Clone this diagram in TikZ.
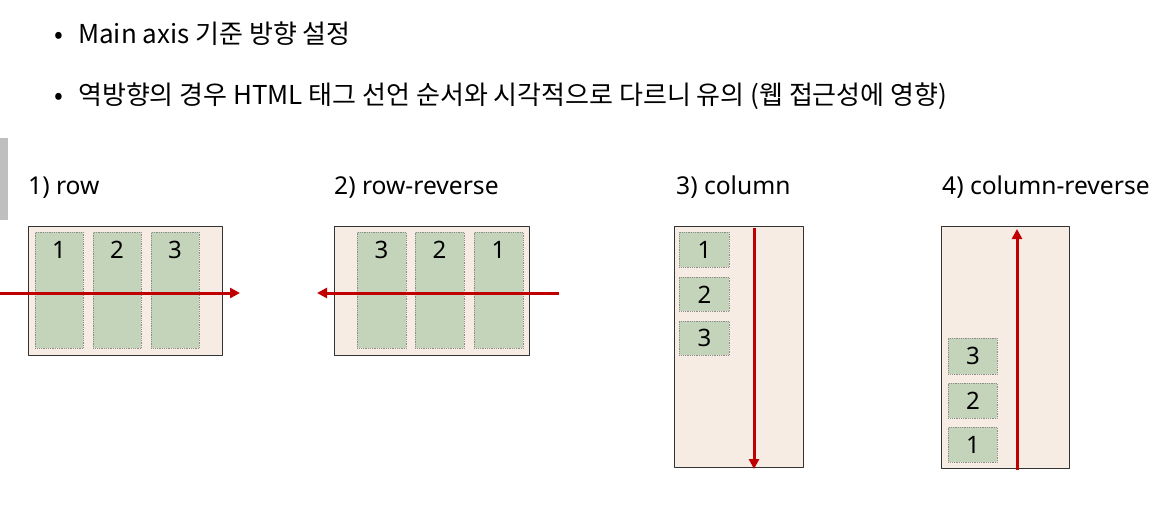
\documentclass[tikz,border=0pt]{standalone}
\usepackage{fontspec}
\setmainfont{Noto Sans}
\newfontfamily\kofont{Noto Sans CJK KR}
\usetikzlibrary{arrows.meta}
\definecolor{boxbg}{HTML}{F6ECE4}
\definecolor{itemgreen}{HTML}{C3D4BB}
\definecolor{axisred}{HTML}{C00000}
\begin{document}
\begin{tikzpicture}[x=1pt,y=-1pt,line join=round,
		flexbox/.style={draw=black!80,fill=boxbg,line width=0.9pt,anchor=north west,inner sep=0pt},
		item/.style={draw=black!45,densely dotted,fill=itemgreen,line width=0.8pt,anchor=north west,inner sep=0pt,font=\fontsize{24}{24}\selectfont},
		num/.style={font=\fontsize{24}{24}\selectfont,inner sep=0pt},
		axis/.style={draw=axisred,line width=3pt,-{Triangle[length=10pt,width=10pt]}},
		title/.style={font=\fontsize{24.6}{24.6}\selectfont,anchor=base west,inner sep=0pt},
		bullet/.style={font=\kofont\fontsize{26}{26}\selectfont,anchor=base west,inner sep=0pt}]
	\useasboundingbox[fill=white] (0,0) rectangle (1157,522);
	\fill[black!25] (0,138) rectangle (8,220);
	% bullets
	\node[bullet] (dot1) at (54,43) {•};
	\node[bullet] (txt1) at (78,43) {Main axis 기준 방향 설정};
	\node[bullet] (dot2) at (54,104) {•};
	\node[bullet] (txt2) at (78,104) {역방향의 경우 HTML 태그 선언 순서와 시각적으로 다르니 유의 (웹 접근성에 영향)};
	% 1) row
	\node[title] (t1) at (28,194) {1) row};
	\node[flexbox,minimum width=194pt,minimum height=129pt] (box1) at (28,226) {};
	\node[item,minimum width=48pt,minimum height=116pt] (r1) at (35,232) {};
	\node[item,minimum width=48pt,minimum height=116pt] (r2) at (93,232) {};
	\node[item,minimum width=48pt,minimum height=116pt] (r3) at (151,232) {};
	\node[num,anchor=base] (n1) at (59,258) {1};
	\node[num,anchor=base] (n2) at (117,258) {2};
	\node[num,anchor=base] (n3) at (175,258) {3};
	\coordinate (a1s) at (0,293);
	\coordinate (a1e) at (240,293);
	\draw[axis] (a1s) -- (a1e);
	% 2) row-reverse
	\node[title] (t2) at (334,194) {2) row-reverse};
	\node[flexbox,minimum width=195pt,minimum height=129pt] (box2) at (334,226) {};
	\node[item,minimum width=49pt,minimum height=116pt] (rr3) at (357,232) {};
	\node[item,minimum width=49pt,minimum height=116pt] (rr2) at (415,232) {};
	\node[item,minimum width=49pt,minimum height=116pt] (rr1) at (474,232) {};
	\node[num,anchor=base] (m3) at (381.5,258) {3};
	\node[num,anchor=base] (m2) at (439.5,258) {2};
	\node[num,anchor=base] (m1) at (498.5,258) {1};
	\coordinate (a2s) at (559,293);
	\coordinate (a2e) at (317,293);
	\draw[axis] (a2s) -- (a2e);
	% 3) column
	\node[title] (t3) at (676,194) {3) column};
	\node[flexbox,minimum width=129pt,minimum height=241pt] (box3) at (674,226) {};
	\node[item,minimum width=50pt,minimum height=35pt] (c1) at (679,232) {1};
	\node[item,minimum width=50pt,minimum height=34pt] (c2) at (679,277) {2};
	\node[item,minimum width=50pt,minimum height=34pt] (c3) at (679,321) {3};
	\coordinate (a3s) at (754,228);
	\coordinate (a3e) at (754,469);
	\draw[axis] (a3s) -- (a3e);
	% 4) column-reverse
	\node[title] (t4) at (942,194) {4) column-reverse};
	\node[flexbox,minimum width=128pt,minimum height=242pt] (box4) at (941,226) {};
	\node[item,minimum width=49pt,minimum height=36pt] (cr3) at (948,338) {3};
	\node[item,minimum width=49pt,minimum height=35pt] (cr2) at (948,383) {2};
	\node[item,minimum width=49pt,minimum height=35pt] (cr1) at (948,427) {1};
	\coordinate (a4s) at (1017,470);
	\coordinate (a4e) at (1017,229);
	\draw[axis] (a4s) -- (a4e);
\end{tikzpicture}
\end{document}
